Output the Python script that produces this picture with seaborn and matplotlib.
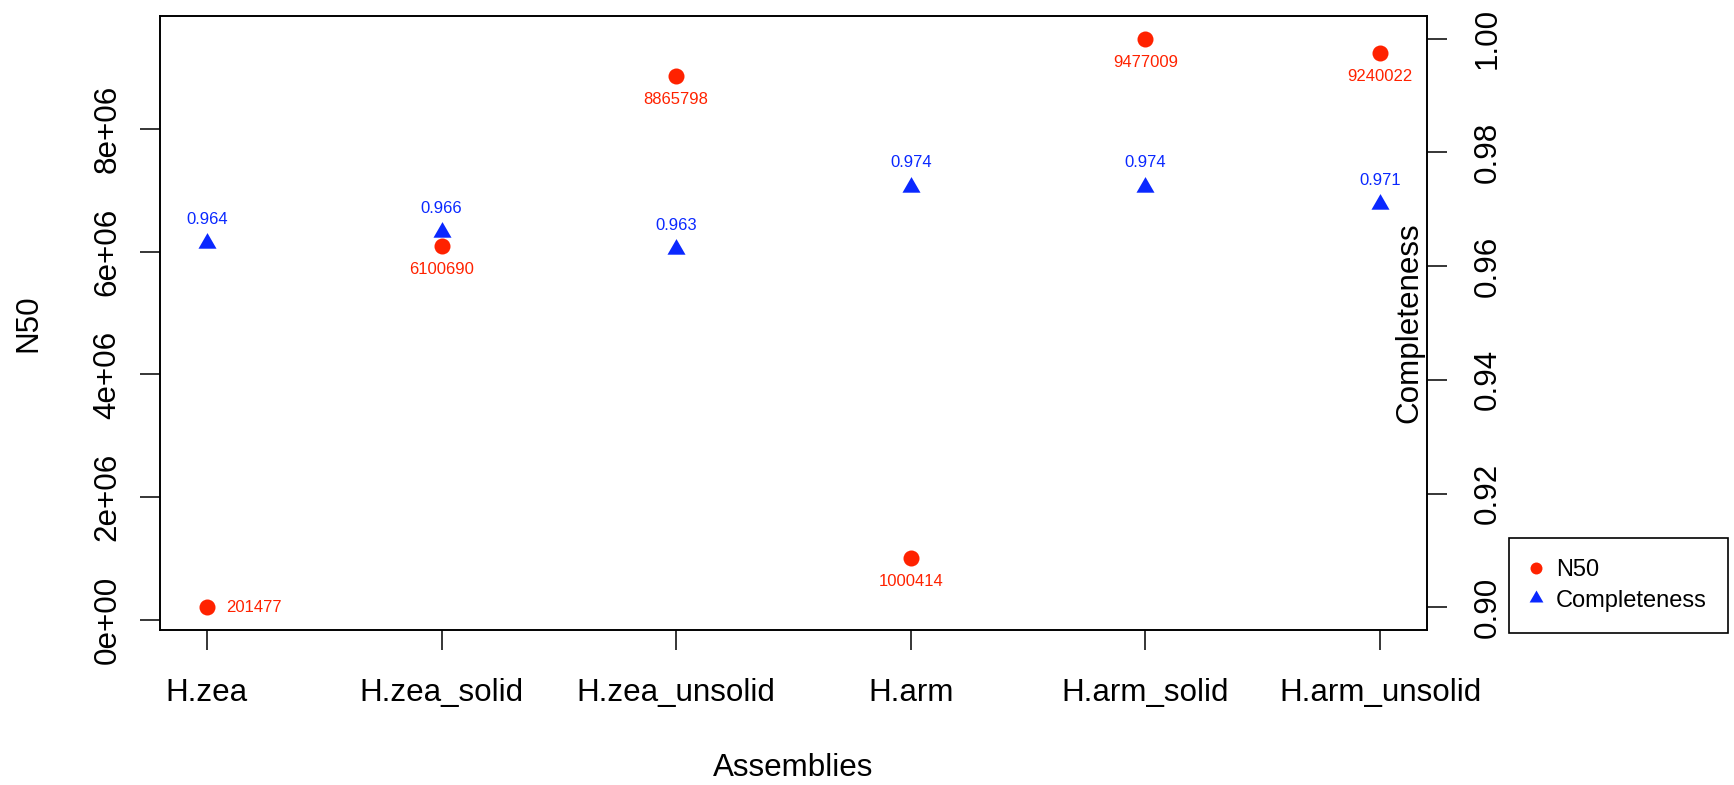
import matplotlib
matplotlib.use("Agg")
import matplotlib.pyplot as plt
from matplotlib.lines import Line2D
import seaborn as sns
import pandas as pd

# Assembly statistics
assemblies = ["H.zea", "H.zea_solid", "H.zea_unsolid", "H.arm", "H.arm_solid", "H.arm_unsolid"]
n50 = [201477, 6100690, 8865798, 1000414, 9477009, 9240022]
completeness = [0.964, 0.966, 0.963, 0.974, 0.974, 0.971]
n50_ticks = [0, 2e6, 4e6, 6e6, 8e6]
n50_tick_labels = ["0e+00", "2e+06", "4e+06", "6e+06", "8e+06"]
comp_ticks = [0.90, 0.92, 0.94, 0.96, 0.98, 1.00]
comp_tick_labels = ["0.90", "0.92", "0.94", "0.96", "0.98", "1.00"]
comp_range = (0.90, 1.00)

RED = "#FF2200"
BLUE = "#0A28FF"

sns.set_theme(style="white")
plt.rcParams["font.family"] = ["Liberation Sans", "DejaVu Sans"]
plt.rcParams["text.color"] = "black"
plt.rcParams["axes.labelcolor"] = "black"

df = pd.DataFrame({"Assemblies": assemblies, "N50": n50, "Completeness": completeness})

fig = plt.figure(figsize=(17.34, 7.85), dpi=100)
ax = fig.add_axes([160 / 1734, 1 - 630 / 785, (1427 - 160) / 1734, (630 - 16) / 785])
ax2 = ax.twinx()

sns.scatterplot(data=df, x="Assemblies", y="N50", ax=ax, color=RED, marker="o",
                s=133, linewidth=0, legend=False)
sns.scatterplot(data=df, x="Assemblies", y="Completeness", ax=ax2, color=BLUE,
                marker=(3, 0, 0), s=225, linewidth=0, legend=False)

# axis ranges padded by 4% like base graphics
lo, hi = min(n50), max(n50)
pad = 0.04 * (hi - lo)
ax.set_ylim(lo - pad, hi + pad)
clo, chi = comp_range
cpad = 0.04 * (chi - clo)
ax2.set_ylim(clo - cpad, chi + cpad)
ax.set_xlim(-0.2, len(assemblies) - 1 + 0.2)

# value labels
for i, v in enumerate(n50):
    if i == 0:
        ax.annotate(str(v), (i, v), xytext=(14, 0), textcoords="offset points",
                    ha="left", va="center", color=RED, fontsize=12)
    else:
        ax.annotate(str(v), (i, v), xytext=(0, -17), textcoords="offset points",
                    ha="center", va="center", color=RED, fontsize=12)
for i, v in enumerate(completeness):
    ax2.annotate(f"{v:.3f}", (i, v), xytext=(0, 17), textcoords="offset points",
                 ha="center", va="center", color=BLUE, fontsize=12)

tick_fs = 22.6
ax.set_yticks(n50_ticks)
ax.set_yticklabels(n50_tick_labels, rotation=90, va="center", fontsize=tick_fs)
ax2.set_yticks(comp_ticks)
ax2.set_yticklabels(comp_tick_labels, rotation=90, va="center", fontsize=tick_fs)
ax.set_xticks(range(len(assemblies)))
ax.set_xticklabels(assemblies, fontsize=tick_fs)

for a in (ax, ax2):
    a.tick_params(axis="both", direction="out", length=14.4, width=1.1, color="black",
                  labelcolor="black")
    for s in a.spines.values():
        s.set_color("black")
        s.set_linewidth(1.2)
ax.tick_params(axis="y", pad=12.6)
ax2.tick_params(axis="y", pad=18.5)
ax.tick_params(axis="x", pad=20, bottom=True)
ax.grid(False)
ax2.grid(False)

ax.set_xlabel("Assemblies", fontsize=tick_fs, color="black")
ax.xaxis.set_label_coords(0.5, -0.225)
ax.xaxis.label.set_va("center")
ax.set_ylabel("N50", fontsize=tick_fs, color="black")
ax.yaxis.set_label_coords(-0.104, 0.5)
ax.yaxis.label.set(va="center", ha="center", rotation_mode="default")
ax2.set_ylabel("Completeness", fontsize=tick_fs, color="black")
ax2.yaxis.set_label_coords(0.9858, 0.5)
ax2.yaxis.label.set(va="center", ha="center", rotation_mode="default")

handles = [
    Line2D([], [], linestyle="none", marker="o", markersize=8.6, color=RED, markeredgewidth=0),
    Line2D([], [], linestyle="none", marker=(3, 0, 0), markersize=11.5, color=BLUE, markeredgewidth=0),
]
leg = fig.legend(handles, ["N50", "Completeness"], loc="upper left",
                 bbox_to_anchor=(1509 / 1734, 1 - 538 / 785), fontsize=17,
                 frameon=True, fancybox=False, framealpha=1, edgecolor="black",
                 borderpad=0.9, handlelength=0.5, handletextpad=0.6, labelspacing=0.36,
                 borderaxespad=0)
leg.get_frame().set_linewidth(1.2)
for t in leg.get_texts():
    t.set_color("black")

fig.savefig("out.png", dpi=100, facecolor="white")
